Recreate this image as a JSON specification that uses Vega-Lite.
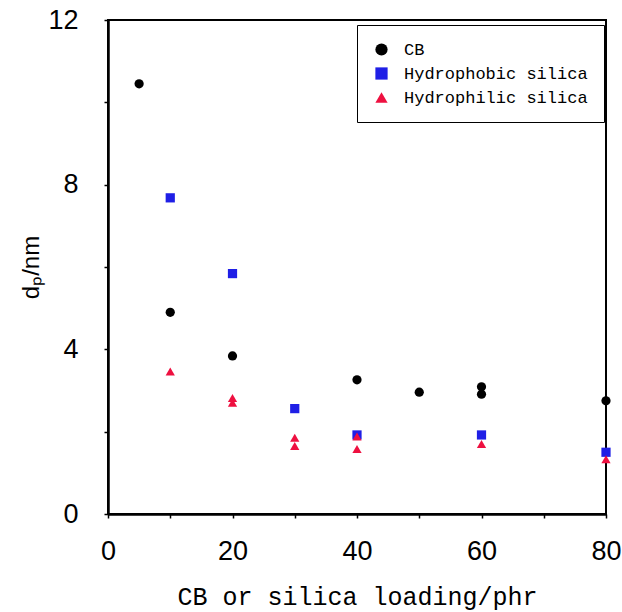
{
  "$schema": "https://vega.github.io/schema/vega-lite/v6.json",
  "autosize": {"type": "none"},
  "width": 498,
  "height": 494,
  "padding": {"left": 108, "top": 20, "right": 16, "bottom": 98},
  "background": "white",
  "config": {
    "view": {"stroke": "black", "strokeWidth": 2},
    "axis": {"grid": false, "domainColor": "black", "domainWidth": 2.5, "tickColor": "black", "tickWidth": 1.5, "tickSize": 4, "labelColor": "black", "titleColor": "black", "labelFont": "Liberation Sans", "labelFontSize": 27}
  },
  "data": {"values": [
    {"loading": 5, "dp": 10.45, "filler": "CB"},
    {"loading": 10, "dp": 4.9, "filler": "CB"},
    {"loading": 20, "dp": 3.84, "filler": "CB"},
    {"loading": 40, "dp": 3.26, "filler": "CB"},
    {"loading": 50, "dp": 2.96, "filler": "CB"},
    {"loading": 60, "dp": 3.09, "filler": "CB"},
    {"loading": 60, "dp": 2.91, "filler": "CB"},
    {"loading": 80, "dp": 2.75, "filler": "CB"},
    {"loading": 10, "dp": 7.68, "filler": "Hydrophobic silica"},
    {"loading": 20, "dp": 5.84, "filler": "Hydrophobic silica"},
    {"loading": 30, "dp": 2.56, "filler": "Hydrophobic silica"},
    {"loading": 40, "dp": 1.92, "filler": "Hydrophobic silica"},
    {"loading": 60, "dp": 1.92, "filler": "Hydrophobic silica"},
    {"loading": 80, "dp": 1.5, "filler": "Hydrophobic silica"},
    {"loading": 10, "dp": 3.46, "filler": "Hydrophilic silica"},
    {"loading": 20, "dp": 2.82, "filler": "Hydrophilic silica"},
    {"loading": 20, "dp": 2.7, "filler": "Hydrophilic silica"},
    {"loading": 30, "dp": 1.85, "filler": "Hydrophilic silica"},
    {"loading": 30, "dp": 1.65, "filler": "Hydrophilic silica"},
    {"loading": 40, "dp": 1.88, "filler": "Hydrophilic silica"},
    {"loading": 40, "dp": 1.58, "filler": "Hydrophilic silica"},
    {"loading": 60, "dp": 1.7, "filler": "Hydrophilic silica"},
    {"loading": 80, "dp": 1.33, "filler": "Hydrophilic silica"}
  ]},
  "mark": {"type": "point", "filled": true, "opacity": 1, "size": 85},
  "encoding": {
    "x": {"field": "loading", "type": "quantitative", "scale": {"domain": [0, 80], "nice": false},
      "axis": {"values": [0, 10, 20, 30, 40, 50, 60, 70, 80], "labelExpr": "datum.value % 20 === 0 ? datum.label : ''", "labelPadding": 20, "labelFlush": false,
        "title": "CB or silica loading/phr", "titleFont": "Liberation Mono", "titleFontSize": 25, "titleFontWeight": "normal", "titlePadding": 20}},
    "y": {"field": "dp", "type": "quantitative", "scale": {"domain": [0, 12], "nice": false},
      "axis": {"values": [0, 2, 4, 6, 8, 10, 12], "labelExpr": "datum.value % 4 === 0 ? datum.label : ''", "labelPadding": 26,
        "title": "dₚ/nm", "titleFont": "Liberation Sans", "titleFontSize": 24, "titleFontWeight": "normal", "titlePadding": 4}},
    "color": {"field": "filler", "type": "nominal",
      "scale": {"domain": ["CB", "Hydrophobic silica", "Hydrophilic silica"], "range": ["#000000", "#1f1fe6", "#ee1040"]},
      "legend": {"title": null, "orient": "none", "legendX": 249, "legendY": 5, "labelFont": "Liberation Mono", "labelFontSize": 17, "labelLimit": 0, "labelColor": "black", "padding": 16, "rowPadding": 6, "labelOffset": 14, "symbolSize": 150, "strokeColor": "black", "fillColor": "white", "cornerRadius": 0}},
    "shape": {"field": "filler", "type": "nominal",
      "scale": {"domain": ["CB", "Hydrophobic silica", "Hydrophilic silica"], "range": ["circle", "square", "triangle-up"]}}
  }
}
